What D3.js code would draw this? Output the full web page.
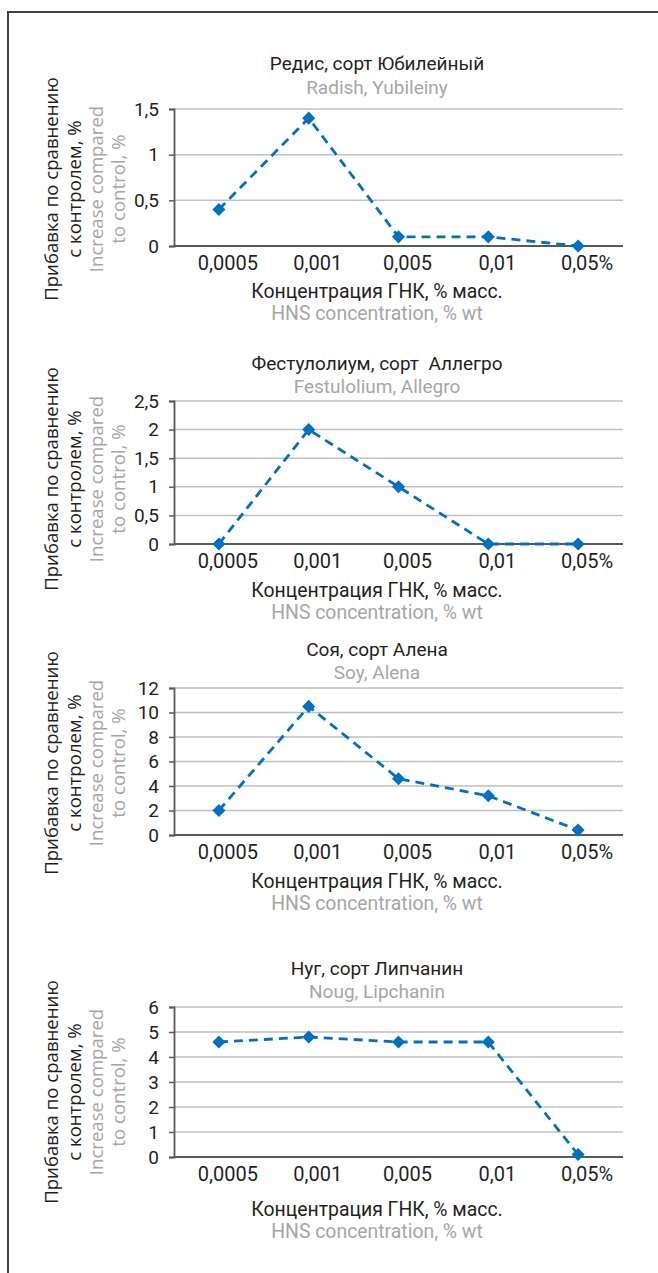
<!DOCTYPE html>
<html>
<head>
<meta charset="utf-8">
<script src="https://cdn.jsdelivr.net/npm/d3@7"></script>
<style>
  body { margin: 0; background: #fff; }
  svg { display: block; }
  .ttl { font-family: Roboto, "Liberation Sans", sans-serif; white-space: pre; }
  .ylab { font-family: "Open Sans", "DejaVu Sans", sans-serif; }
</style>
</head>
<body>
<div id="chart"></div>
<script>
// categories on the x axis (HNS concentration)
const categories = ["0,0005", "0,001", "0,005", "0,01", "0,05%"];

// series values, % increase compared to control
const radishValues = [0.4, 1.4, 0.1, 0.1, 0];
const festuloliumValues = [0, 2, 1, 0, 0];
const soyValues = [2, 10.5, 4.6, 3.2, 0.4];
const nougValues = [4.6, 4.8, 4.6, 4.6, 0.1];

// y tick values for each panel
const radishTicks = [0, 0.5, 1, 1.5];
const festuloliumTicks = [0, 0.5, 1, 1.5, 2, 2.5];
const soyTicks = [0, 2, 4, 6, 8, 10, 12];
const nougTicks = [0, 1, 2, 3, 4, 5, 6];

// titles
const titlesRu = ["Редис, сорт Юбилейный", "Фестулолиум, сорт  Аллегро", "Соя, сорт Алена", "Нуг, сорт Липчанин"];
const titlesEn = ["Radish, Yubileiny", "Festulolium, Allegro", "Soy, Alena", "Noug, Lipchanin"];
const xTitleRu = "Концентрация ГНК, % масс.";
const xTitleEn = "HNS concentration, % wt";
const yTitleRu = ["Прибавка по сравнению", "с контролем, %"];
const yTitleEn = ["Increase compared", "to control, %"];

const W = 658, H = 1273;
const blue = "#0070c0";
const grey = "#a6a6a6";
const dark = "#1f1f1f";

// panel layout (pixel positions of each panel)
const panels = [
    {values: radishValues, ticks: radishTicks, top: 109, bottom: 246, title: 63, sub: 87, tickY: 263, xt: 291, xs: 313, yc: 189},
    {values: festuloliumValues, ticks: festuloliumTicks, top: 401, bottom: 544, title: 363, sub: 386, tickY: 561, xt: 590, xs: 612, yc: 479},
    {values: soyValues, ticks: soyTicks, top: 688, bottom: 835, title: 649, sub: 672, tickY: 852, xt: 881, xs: 903, yc: 763},
    {values: nougValues, ticks: nougTicks, top: 1007, bottom: 1157, title: 968, sub: 991, tickY: 1174, xt: 1209, xs: 1231, yc: 1092}
];

const plotLeft = 174, plotRight = 623, textCenter = 377;

const svg = d3.select("#chart").append("svg")
    .attr("width", W)
    .attr("height", H);

// outer frame (left + top edges)
svg.append("path")
    .attr("d", `M8,${H} L8,12 L${W},12`)
    .attr("fill", "none")
    .attr("stroke", "#404040")
    .attr("stroke-width", 2);

const x = d3.scaleBand()
    .domain(categories)
    .range([plotLeft, plotRight]);

const fmt = d => String(d).replace(".", ",");

panels.forEach((p, i) => {
    let g = svg.append("g");

    let y = d3.scaleLinear()
        .domain([0, d3.max(p.ticks)])
        .range([p.bottom, p.top]);

    // gridlines
    g.selectAll(".grid")
        .data(p.ticks.filter(t => t > 0))
        .enter().append("line")
        .attr("x1", plotLeft)
        .attr("x2", plotRight)
        .attr("y1", d => y(d))
        .attr("y2", d => y(d))
        .attr("stroke", "#bfbfbf")
        .attr("stroke-width", 1.5);

    // y axis
    let yAxis = d3.axisLeft(y)
        .tickValues(p.ticks)
        .tickSize(5)
        .tickPadding(10)
        .tickFormat(fmt);

    let ya = g.append("g")
        .attr("transform", `translate(${plotLeft},0)`)
        .call(yAxis);
    ya.select(".domain").attr("stroke", "#595959").attr("stroke-width", 1.8);
    ya.selectAll(".tick line").attr("stroke", "#595959").attr("stroke-width", 1.5);
    ya.selectAll(".tick text")
        .attr("class", "ttl")
        .attr("font-size", 19)
        .attr("fill", dark);

    // x axis baseline
    g.append("line")
        .attr("x1", plotLeft)
        .attr("x2", plotRight)
        .attr("y1", y(0))
        .attr("y2", y(0))
        .attr("stroke", "#595959")
        .attr("stroke-width", 2);

    // x tick labels
    g.selectAll(".xlab")
        .data(categories)
        .enter().append("text")
        .attr("class", "ttl")
        .attr("x", d => x(d) + x.bandwidth() / 2 + 9)
        .attr("y", p.tickY)
        .attr("text-anchor", "middle")
        .attr("dominant-baseline", "central")
        .attr("font-size", 20)
        .attr("fill", dark)
        .text(d => d);

    // dashed line
    let line = d3.line()
        .x((d, j) => x(categories[j]) + x.bandwidth() / 2)
        .y(d => y(d));

    g.append("path")
        .datum(p.values)
        .attr("d", line)
        .attr("fill", "none")
        .attr("stroke", blue)
        .attr("stroke-width", 2.8)
        .attr("stroke-dasharray", "9,6");

    // diamond markers
    g.selectAll(".marker")
        .data(p.values)
        .enter().append("path")
        .attr("d", d3.symbol(d3.symbolSquare, 85))
        .attr("transform", (d, j) => `translate(${x(categories[j]) + x.bandwidth() / 2},${y(d)}) rotate(45)`)
        .attr("fill", blue);

    // titles
    g.append("text")
        .attr("class", "ttl")
        .attr("x", textCenter).attr("y", p.title)
        .attr("text-anchor", "middle").attr("dominant-baseline", "central")
        .attr("font-size", 19).attr("fill", dark)
        .text(titlesRu[i]);
    g.append("text")
        .attr("class", "ttl")
        .attr("x", textCenter).attr("y", p.sub)
        .attr("text-anchor", "middle").attr("dominant-baseline", "central")
        .attr("font-size", 19).attr("fill", grey)
        .text(titlesEn[i]);

    // x axis title
    g.append("text")
        .attr("class", "ttl")
        .attr("x", textCenter).attr("y", p.xt)
        .attr("text-anchor", "middle").attr("dominant-baseline", "central")
        .attr("font-size", 19.4).attr("fill", dark)
        .text(xTitleRu);
    g.append("text")
        .attr("class", "ttl")
        .attr("x", textCenter).attr("y", p.xs)
        .attr("text-anchor", "middle").attr("dominant-baseline", "central")
        .attr("font-size", 19.4).attr("fill", grey)
        .text(xTitleEn);

    // y axis title (4 rotated lines)
    let ylines = [
        {t: yTitleRu[0], x: 50, c: dark},
        {t: yTitleRu[1], x: 73, c: dark},
        {t: yTitleEn[0], x: 95, c: grey},
        {t: yTitleEn[1], x: 117, c: grey}
    ];
    g.selectAll(".ytitle")
        .data(ylines)
        .enter().append("text")
        .attr("class", "ylab")
        .attr("transform", d => `translate(${d.x},${p.yc}) rotate(-90)`)
        .attr("text-anchor", "middle")
        .attr("dominant-baseline", "central")
        .attr("font-size", 18.6)
        .attr("fill", d => d.c)
        .text(d => d.t);
});
</script>
</body>
</html>
